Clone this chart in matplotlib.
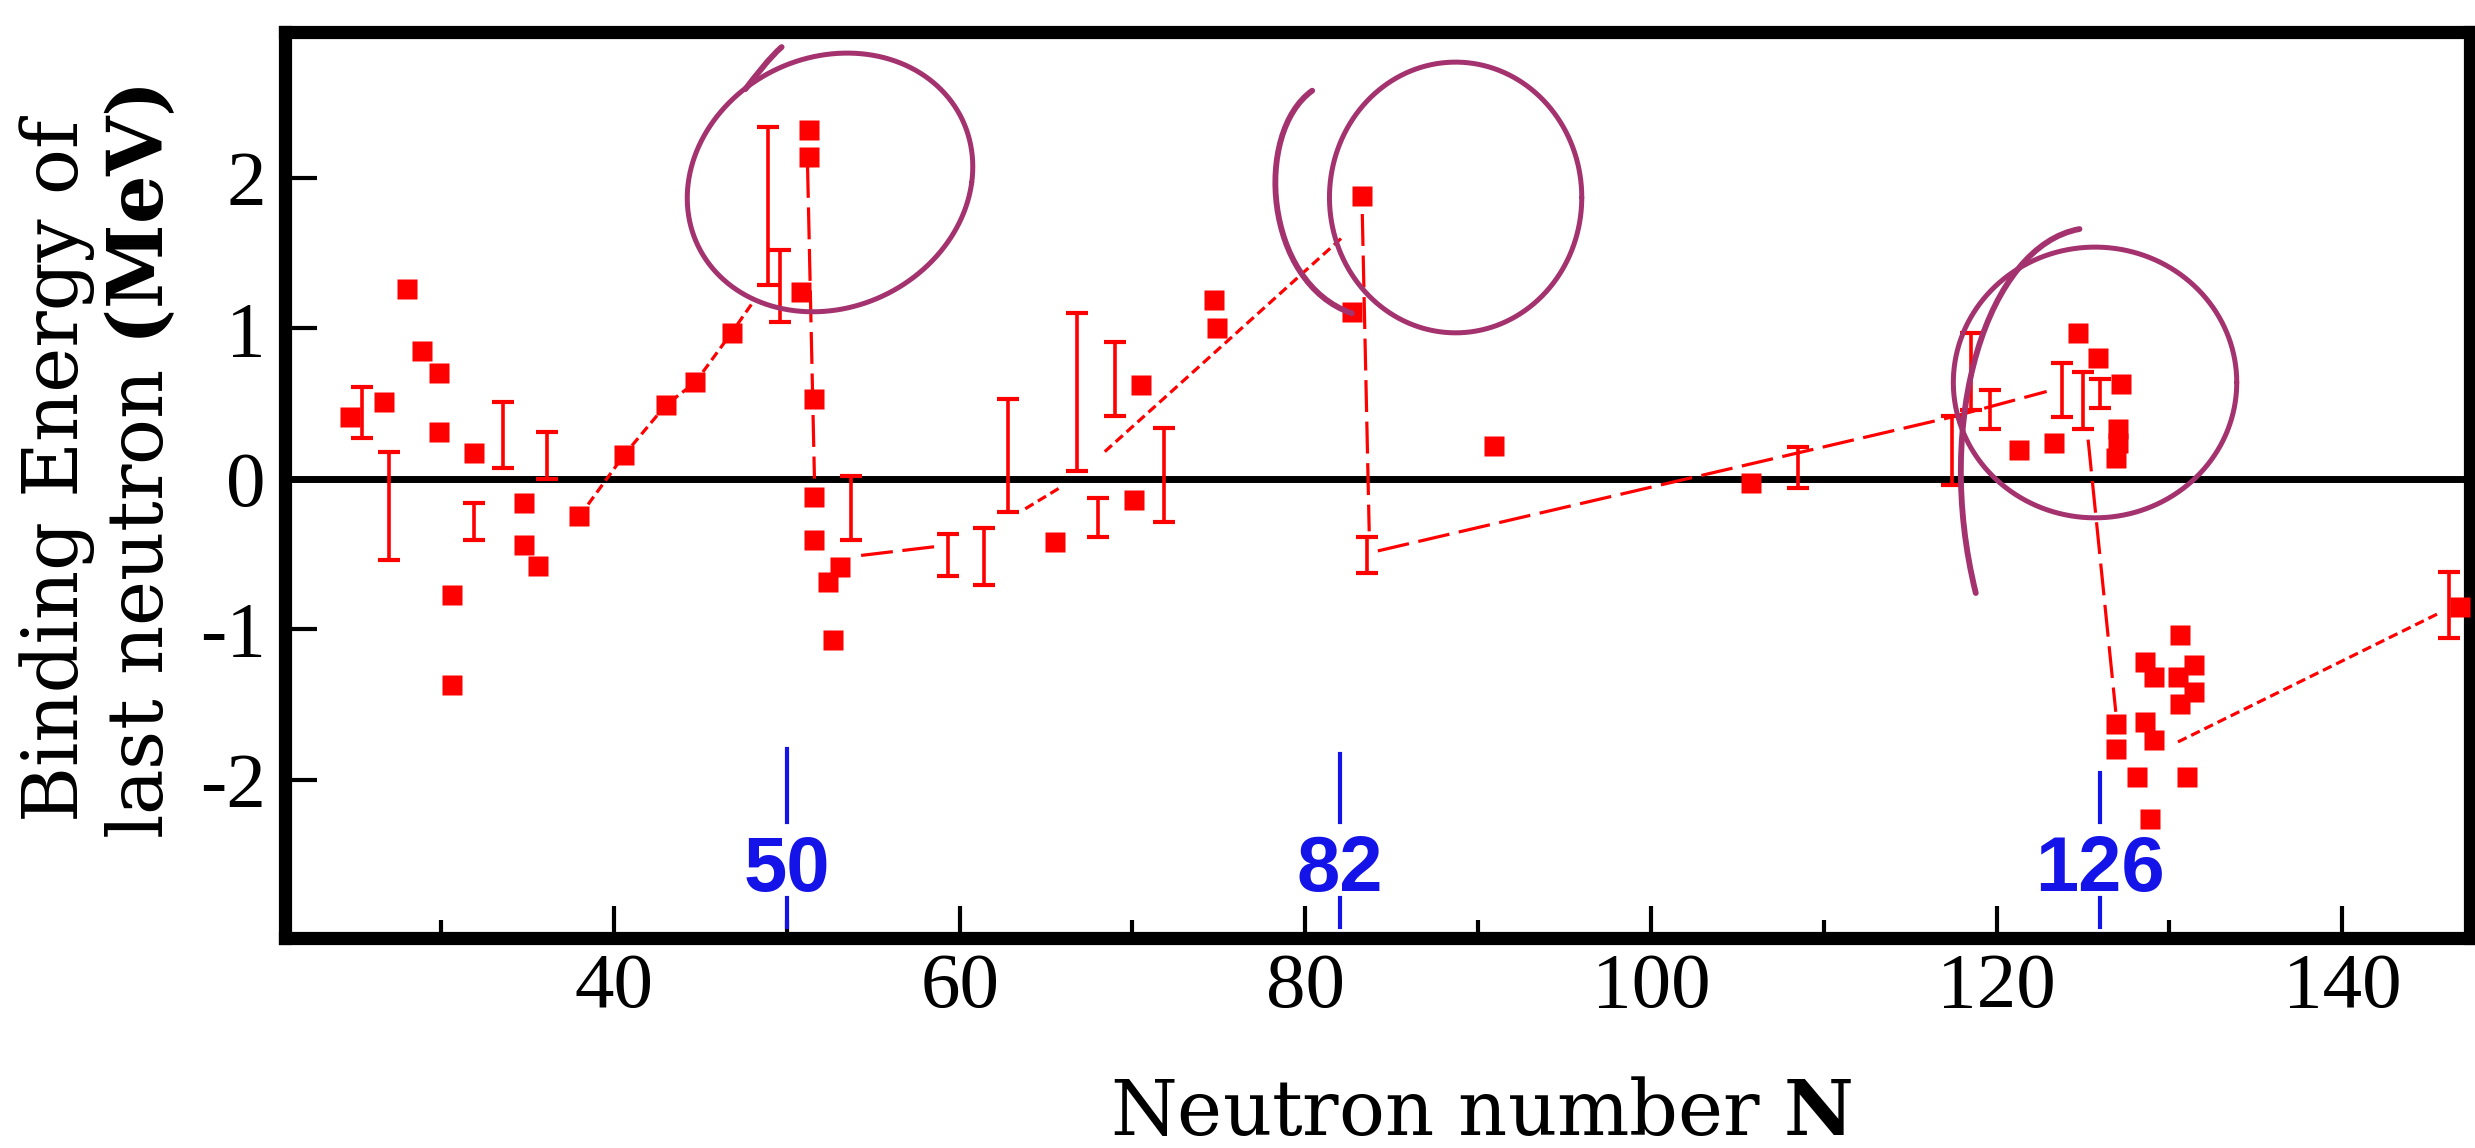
import matplotlib
matplotlib.use("Agg")
import matplotlib.pyplot as plt
import numpy as np
from matplotlib.patches import PathPatch
from matplotlib.path import Path

plt.rcParams["mathtext.fontset"] = "dejavuserif"
plt.rcParams["axes.unicode_minus"] = False

# measured binding energies of the last neutron (MeV), single points
square_n = [24.7, 26.7, 28.0, 28.9, 29.9, 29.9, 30.6, 30.6, 31.9, 34.8, 34.8, 35.6,
            38.0, 40.6, 43.0, 44.7, 46.8,
            50.8, 51.3, 51.3, 51.6, 51.6, 51.6, 52.4, 53.1, 52.7,
            65.5, 70.1, 70.5, 74.7, 74.9,
            82.7, 83.3, 90.9, 105.8,
            121.3, 123.3, 124.7, 125.9, 127.2, 127.0, 127.0, 126.9,
            126.9, 126.9, 128.1, 128.6, 129.1, 128.6, 129.1, 128.9,
            130.6, 131.4, 131.4, 130.5, 130.6, 131.0, 146.8]
square_be = [0.41, 0.51, 1.26, 0.85, 0.70, 0.31, -0.77, -1.37, 0.17, -0.16, -0.44, -0.58,
             -0.25, 0.16, 0.49, 0.64, 0.97,
             1.24, 2.32, 2.14, 0.53, -0.12, -0.41, -0.69, -0.59, -1.07,
             -0.42, -0.14, 0.62, 1.19, 1.00,
             1.11, 1.88, 0.22, -0.03,
             0.19, 0.24, 0.97, 0.80, 0.63, 0.33, 0.24, 0.14,
             -1.63, -1.80, -1.98, -1.22, -1.32, -1.62, -1.74, -2.26,
             -1.04, -1.24, -1.42, -1.32, -1.50, -1.98, -0.85]

# ranges shown as I-bars
bar_n = [25.4, 27.0, 31.9, 33.6, 36.1, 48.9, 49.6, 53.7, 59.3, 61.4, 62.8, 66.8,
         68.0, 69.0, 71.8, 83.6, 108.5, 117.4, 118.5, 119.6, 123.8, 125.0, 126.0, 146.2]
bar_lo = [0.27, -0.54, -0.41, 0.07, 0.00, 1.29, 1.04, -0.41, -0.65, -0.71, -0.22, 0.05,
          -0.39, 0.42, -0.29, -0.63, -0.06, -0.04, 0.46, 0.33, 0.41, 0.33, 0.47, -1.06]
bar_hi = [0.61, 0.18, -0.16, 0.51, 0.31, 2.34, 1.52, 0.02, -0.37, -0.33, 0.53, 1.10,
          -0.13, 0.91, 0.34, -0.39, 0.21, 0.42, 0.97, 0.59, 0.77, 0.71, 0.66, -0.62]

# trend lines (dotted = short dashes, dashed = long dashes)
rise_to_50_n = [38.0, 40.6, 43.0, 44.7, 46.8, 48.2]
rise_to_50_be = [-0.25, 0.16, 0.49, 0.64, 0.97, 1.20]
step_64_n = [63.8, 65.8]
step_64_be = [-0.20, -0.06]
rise_to_82_n = [68.4, 82.1]
rise_to_82_be = [0.18, 1.60]
rise_after_126_n = [130.5, 145.5]
rise_after_126_be = [-1.75, -0.90]

drop_50_n = [51.2, 51.6]
drop_50_be = [2.08, 0.0]
flat_55_n = [54.3, 58.7]
flat_55_be = [-0.51, -0.45]
drop_82_n = [83.3, 83.7]
drop_82_be = [1.76, -0.35]
rise_to_126_n = [84.2, 117.4, 122.9]
rise_to_126_be = [-0.48, 0.41, 0.58]
drop_126_n = [125.3, 126.9]
drop_126_be = [0.26, -1.55]

# magic numbers
magic_n = [50, 82, 126]
magic_labels = ["50", "82", "126"]
magic_line_top = [-1.80, -1.83, -1.96]

x_major = [40, 60, 80, 100, 120, 140]
x_minor = [30, 50, 70, 90, 110, 130]
y_major = [-2, -1, 0, 1, 2]

# hand-drawn rings around the shell closures
ring_n = [52.5, 88.7, 125.7]
ring_be = [1.97, 1.87, 0.64]
ring_half_w = [8.2, 7.3, 8.2]
ring_half_h = [0.86, 0.90, 0.90]
ring_lean = [1.0, 0.0, 0.0]
stroke_50 = [(49.7, 2.87), (49.0, 2.80), (48.2, 2.68), (47.6, 2.59)]
stroke_82 = [(80.4, 2.58), (77.0, 2.30), (77.6, 1.30), (82.7, 1.10)]
stroke_126 = [(124.8, 1.66), (119.5, 1.55), (116.3, 0.40), (118.8, -0.76)]

RED = "#ff0000"
BLUE = "#1414e8"
PURPLE = "#a3326e"

fig = plt.figure(figsize=(24.75, 11.48), dpi=100)
ax = fig.add_axes([0.1152, 0.1829, 0.8828, 0.7888])
ax.set_xlim(20.97, 147.4)
ax.set_ylim(-3.054, 2.967)

ax.axhline(0, color="black", lw=5, zorder=1)

short_dash = (0, (3, 1.6))
long_dash = (0, (10, 3))
for xs, ys in [(rise_to_50_n, rise_to_50_be), (step_64_n, step_64_be),
               (rise_to_82_n, rise_to_82_be), (rise_after_126_n, rise_after_126_be)]:
    ax.plot(xs, ys, color=RED, lw=2.3, ls=short_dash, zorder=2)
for xs, ys in [(drop_50_n, drop_50_be), (flat_55_n, flat_55_be), (drop_82_n, drop_82_be),
               (rise_to_126_n, rise_to_126_be), (drop_126_n, drop_126_be)]:
    ax.plot(xs, ys, color=RED, lw=2.3, ls=long_dash, zorder=2)

lo = np.array(bar_lo)
hi = np.array(bar_hi)
mid = (lo + hi) / 2
ax.errorbar(bar_n, mid, yerr=(hi - lo) / 2, fmt="none", ecolor=RED,
            elinewidth=2.6, capsize=8, capthick=3, zorder=3)
ax.plot(square_n, square_be, "s", color=RED, ms=14, mec="none", zorder=4)

for m, lab, top in zip(magic_n, magic_labels, magic_line_top):
    ax.plot([m, m], [top, -2.28], color=BLUE, lw=3, zorder=2)
    ax.plot([m, m], [-2.79, -2.98], color=BLUE, lw=3, zorder=2)
    ax.text(m, -2.74, lab, color=BLUE, fontfamily="Liberation Sans",
            fontweight="bold", fontsize=56, ha="center", va="baseline", zorder=5)

# rings
t = np.linspace(0, 2 * np.pi, 300)
for cn, cb, w, h, lean in zip(ring_n, ring_be, ring_half_w, ring_half_h, ring_lean):
    ax.plot(cn + w * np.cos(t) + lean * np.sin(t), cb + h * np.sin(t),
            color=PURPLE, lw=3.6, zorder=6, solid_capstyle="round")
for stroke in [stroke_50, stroke_82, stroke_126]:
    path = Path(stroke, [Path.MOVETO, Path.CURVE4, Path.CURVE4, Path.CURVE4])
    ax.add_patch(PathPatch(path, fill=False, edgecolor=PURPLE, lw=4.2,
                           capstyle="round", zorder=6))

for sp in ax.spines.values():
    sp.set_linewidth(9.5)
ax.set_xticks(x_major)
ax.set_xticks(x_minor, minor=True)
ax.set_yticks(y_major)
ax.set_yticklabels([str(v) for v in y_major])
ax.tick_params(axis="both", which="major", direction="in", length=23, width=3,
               labelsize=57)
ax.tick_params(axis="x", which="major", pad=10.5)
ax.tick_params(axis="y", which="major", pad=14)
ax.tick_params(axis="x", which="minor", direction="in", length=13, width=3)
for lab in ax.get_xticklabels() + ax.get_yticklabels():
    lab.set_fontfamily("Liberation Serif")

fig.text(78 / 2475, 1 - 471 / 1148, "Binding Energy of", family="DejaVu Serif",
         fontsize=55, rotation=90, rotation_mode="anchor", ha="center", va="baseline")
fig.text(163 / 2475, 1 - 462 / 1148, r"last neutron $\mathbf{(MeV)}$", family="DejaVu Serif",
         fontsize=55, rotation=90, rotation_mode="anchor", ha="center", va="baseline")
fig.text(1481 / 2475, 1 - 1135 / 1148, r"Neutron number $\mathbf{N}$", family="DejaVu Serif",
         fontsize=55, ha="center", va="baseline")

fig.savefig("out.png", dpi=100, facecolor="white")
